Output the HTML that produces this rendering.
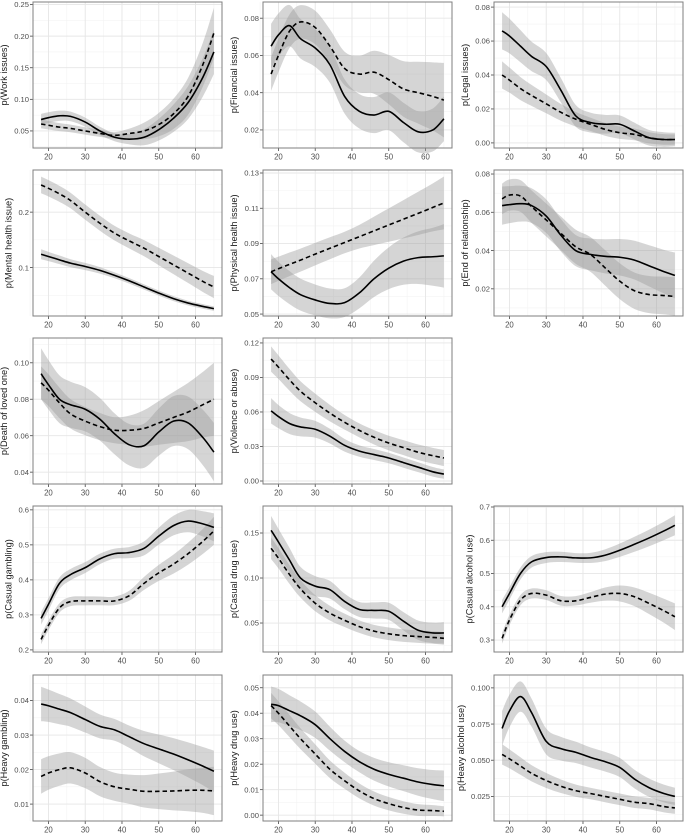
<!DOCTYPE html>
<html><head><meta charset="utf-8">
<style>
html,body{margin:0;padding:0;background:#fff;}
svg{display:block;font-family:"Liberation Sans",sans-serif;}
</style></head>
<body>
<svg id="chart" width="685" height="836" viewBox="0 0 685 836" xmlns="http://www.w3.org/2000/svg"></svg>
<script>
const ages = [18,20,23,26,30,34,38,42,46,50,54,58,62,65];
const xTicks = [20,30,40,50,60];

const titles = ["p(Work issues)","p(Financial issues)","p(Legal issues)","p(Mental health issue)","p(Physical health issue)","p(End of relationship)","p(Death of loved one)","p(Violence or abuse)","p(Casual gambling)","p(Casual drug use)","p(Casual alcohol use)","p(Heavy gambling)","p(Heavy drug use)","p(Heavy alcohol use)"];

const yTickLabels = [
 ["0.05","0.10","0.15","0.20","0.25"],
 ["0.02","0.04","0.06","0.08"],
 ["0.00","0.02","0.04","0.06","0.08"],
 ["0.1","0.2"],
 ["0.05","0.07","0.09","0.11","0.13"],
 ["0.02","0.04","0.06","0.08"],
 ["0.04","0.06","0.08","0.10"],
 ["0.00","0.03","0.06","0.09","0.12"],
 ["0.2","0.3","0.4","0.5","0.6"],
 ["0.05","0.10","0.15"],
 ["0.3","0.4","0.5","0.6","0.7"],
 ["0.01","0.02","0.03","0.04"],
 ["0.00","0.01","0.02","0.03","0.04","0.05"],
 ["0.025","0.050","0.075","0.100"]
];

const yDomains = [
 [0.023,0.254],[0.0103,0.0887],[-0.003,0.083],[0.0127,0.276],[0.0489,0.1317],
 [0.0058,0.0821],[0.0335,0.1136],[-0.0026,0.1243],[0.194,0.611],[0.0178,0.18],
 [0.264,0.703],[0.0051,0.0474],[-0.0023,0.055],[0.008,0.1089]
];

const solidSeries = [
 [.068,.071,.074,.073,.064,.050,.040,.037,.040,.052,.070,.095,.135,.175],
 [.065,.071,.076,.069,.064,.055,.038,.030,.028,.030,.024,.019,.020,.026],
 [.066,.063,.057,.051,.045,.031,.016,.012,.011,.011,.007,.003,.002,.002],
 [.124,.120,.114,.108,.102,.095,.086,.076,.065,.054,.044,.036,.030,.026],
 [.074,.070,.065,.061,.058,.056,.0565,.062,.070,.076,.080,.082,.0825,.083],
 [.0635,.064,.0645,.0635,.058,.048,.040,.038,.037,.0365,.035,.032,.029,.027],
 [.094,.088,.080,.077,.0745,.069,.061,.055,.0545,.062,.068,.067,.059,.051],
 [.061,.056,.050,.047,.045,.039,.031,.026,.023,.020,.016,.012,.008,.006],
 [.29,.33,.39,.415,.435,.46,.475,.478,.49,.525,.555,.568,.56,.55],
 [.153,.14,.12,.10,.091,.087,.074,.065,.064,.063,.052,.042,.039,.039],
 [.40,.44,.50,.535,.548,.55,.547,.547,.555,.57,.588,.607,.628,.645],
 [.039,.0385,.0375,.0365,.0345,.0325,.0315,.0295,.0275,.026,.0245,.0228,.021,.0195],
 [.0435,.043,.041,.039,.0355,.030,.025,.021,.018,.016,.0145,.013,.012,.0115],
 [.072,.084,.094,.083,.063,.058,.0555,.052,.049,.045,.037,.031,.027,.025]
];

const dashedSeries = [
 [.061,.059,.056,.054,.050,.046,.043,.046,.050,.060,.077,.105,.155,.205],
 [.050,.060,.073,.078,.075,.065,.053,.050,.051,.047,.042,.040,.038,.036],
 [.040,.037,.032,.028,.023,.018,.014,.011,.008,.006,.005,.003,.002,.002],
 [.249,.243,.233,.221,.200,.180,.162,.148,.135,.120,.105,.090,.075,.065],
 [.074,.0757,.0782,.0806,.084,.0873,.0906,.0939,.0972,.1005,.1038,.1071,.1105,.113],
 [.067,.069,.0685,.063,.056,.049,.042,.038,.031,.024,.019,.017,.0165,.016],
 [.089,.085,.078,.072,.068,.065,.063,.063,.064,.067,.070,.073,.077,.080],
 [.106,.099,.088,.078,.068,.059,.051,.044,.038,.033,.029,.025,.022,.020],
 [.23,.27,.32,.338,.34,.34,.34,.355,.39,.42,.445,.475,.51,.54],
 [.133,.122,.104,.088,.072,.061,.053,.046,.041,.038,.036,.035,.034,.033],
 [.305,.36,.42,.44,.435,.418,.418,.428,.438,.44,.43,.41,.388,.37],
 [.018,.019,.020,.0205,.019,.0165,.015,.0143,.0137,.0137,.0138,.014,.014,.0138],
 [.043,.040,.035,.030,.024,.018,.0135,.0095,.0065,.0045,.003,.002,.0018,.0015],
 [.054,.051,.046,.041,.036,.032,.029,.027,.025,.023,.021,.020,.018,.017]
];

const solidBand = [
 [.009,.006,.035],[.012,.009,.012],[.011,.006,.004],[.009,.005,.004],[.010,.008,.018],
 [.010,.008,.012],[.014,.011,.016],[.011,.005,.004],[.018,.014,.04],[.016,.008,.012],
 [.02,.014,.03],[.005,.003,.006],[.007,.004,.006],[.012,.007,.006]
];
const dashedBand = [
 [.007,.005,.04],[.009,.009,.02],[.008,.004,.003],[.015,.013,.02],[.007,.006,.015],
 [.008,.009,.01],[.009,.007,.02],[.011,.006,.007],[.014,.012,.04],[.012,.007,.007],
 [.016,.014,.04],[.005,.004,.007],[.005,.003,.002],[.007,.004,.004]
];

const colL = [33,263,494], colW = 189;
const rowT = [2,170,338,506,675], rowH = 146;
const slots = [[0,0],[0,1],[0,2],[1,0],[1,1],[1,2],[2,0],[2,1],[3,0],[3,1],[3,2],[4,0],[4,1],[4,2]];

const NS = "http://www.w3.org/2000/svg";
const svg = document.getElementById("chart");
function mk(tag, attrs, parent){
  const e = document.createElementNS(NS, tag);
  for (const k in attrs) e.setAttribute(k, attrs[k]);
  (parent||svg).appendChild(e);
  return e;
}
function smoothPath(pts, move){
  let d = (move ? "M" : "L") + pts[0][0].toFixed(2) + "," + pts[0][1].toFixed(2);
  for (let i=0;i<pts.length-1;i++){
    const p0 = pts[i-1]||pts[i], p1 = pts[i], p2 = pts[i+1], p3 = pts[i+2]||pts[i+1];
    const c1 = [p1[0]+(p2[0]-p0[0])/6, p1[1]+(p2[1]-p0[1])/6];
    const c2 = [p2[0]-(p3[0]-p1[0])/6, p2[1]-(p3[1]-p1[1])/6];
    d += "C"+c1[0].toFixed(2)+","+c1[1].toFixed(2)+" "+c2[0].toFixed(2)+","+c2[1].toFixed(2)+" "+p2[0].toFixed(2)+","+p2[1].toFixed(2);
  }
  return d;
}
function bandAt(b, i){
  const n = ages.length-1, t = i/n;
  if (t < 0.5) return b[0] + (b[1]-b[0])*(t/0.5);
  return b[1] + (b[2]-b[1])*((t-0.5)/0.5);
}

slots.forEach((s, p) => {
  const L = colL[s[1]], T = rowT[s[0]], W = colW, H = rowH;
  const x0 = 15.8, x1 = 67.2;
  const [y0, y1] = yDomains[p];
  const xs = v => L + (v-x0)/(x1-x0)*W;
  const ys = v => T + H - (v-y0)/(y1-y0)*H;
  const g = mk("g", {});
  
  
  mk("rect", {x:L, y:T, width:W, height:H, fill:"#fff"}, g);
  const ticksV = yTickLabels[p].map(Number);
  const step = ticksV.length>1 ? ticksV[1]-ticksV[0] : 0.05;
  for (let v = ticksV[0]-step/2; v <= y1; v += step) {
    if (v < y0) continue;
    mk("line",{x1:L,x2:L+W,y1:ys(v),y2:ys(v),stroke:"#f3f3f3","stroke-width":0.6},g);
  }
  for (let v = 15; v <= 65; v += 10) {
    mk("line",{x1:xs(v),x2:xs(v),y1:T,y2:T+H,stroke:"#f3f3f3","stroke-width":0.6},g);
  }
  yTickLabels[p].forEach(lbl => {
    const v = Number(lbl), y = ys(v);
    mk("line",{x1:L,x2:L+W,y1:y,y2:y,stroke:"#e6e6e6","stroke-width":0.9},g);
    mk("line",{x1:L-3,x2:L,y1:y,y2:y,stroke:"#444","stroke-width":0.8},g);
    const t = mk("text",{x:L-4,y:y+2.7,"text-anchor":"end","font-size":"7.6",fill:"#4d4d4d"},g);
    t.textContent = lbl;
    
    
  });
  xTicks.forEach(v => {
    const x = xs(v);
    mk("line",{x1:x,x2:x,y1:T,y2:T+H,stroke:"#e6e6e6","stroke-width":0.9},g);
    mk("line",{x1:x,x2:x,y1:T+H,y2:T+H+3,stroke:"#444","stroke-width":0.8},g);
    const t = mk("text",{x:x,y:T+H+11.5,"text-anchor":"middle","font-size":"7.8",fill:"#4d4d4d"},g);
    t.textContent = String(v);
    
    
  });
  [[solidSeries[p], solidBand[p]],[dashedSeries[p], dashedBand[p]]].forEach((ser, k) => {
    const vals = ser[0], b = ser[1];
    const up = ages.map((a,i)=>[xs(a), ys(vals[i]+bandAt(b,i))]);
    const lo = ages.map((a,i)=>[xs(a), ys(vals[i]-bandAt(b,i))]).reverse();
    const rib = mk("path",{d:smoothPath(up,true)+smoothPath(lo,false)+"Z",fill:"#9a9a9a","fill-opacity":0.42},g);
    
    
  });
  [[solidSeries[p], null],[dashedSeries[p], "4.5,3"]].forEach((ser, k) => {
    const pts = ages.map((a,i)=>[xs(a), ys(ser[0][i])]);
    const attrs = {d:smoothPath(pts,true),fill:"none",stroke:"#000","stroke-width":1.6};
    if (ser[1]) attrs["stroke-dasharray"] = ser[1];
    const ln = mk("path", attrs, g);
    
    
  });
  mk("rect",{x:L,y:T,width:W,height:H,fill:"none",stroke:"#7f7f7f","stroke-width":1},g);
  const longest = Math.max(...yTickLabels[p].map(l=>l.length));
  const tx = L - 7 - longest*4.2 - 2;
  const yl = mk("text",{x:0,y:0,"text-anchor":"middle","font-size":"9.2",fill:"#1a1a1a",transform:"translate("+tx+","+(T+H/2)+") rotate(-90)"},g);
  yl.textContent = titles[p];
  
  
});
</script>
</body></html>
